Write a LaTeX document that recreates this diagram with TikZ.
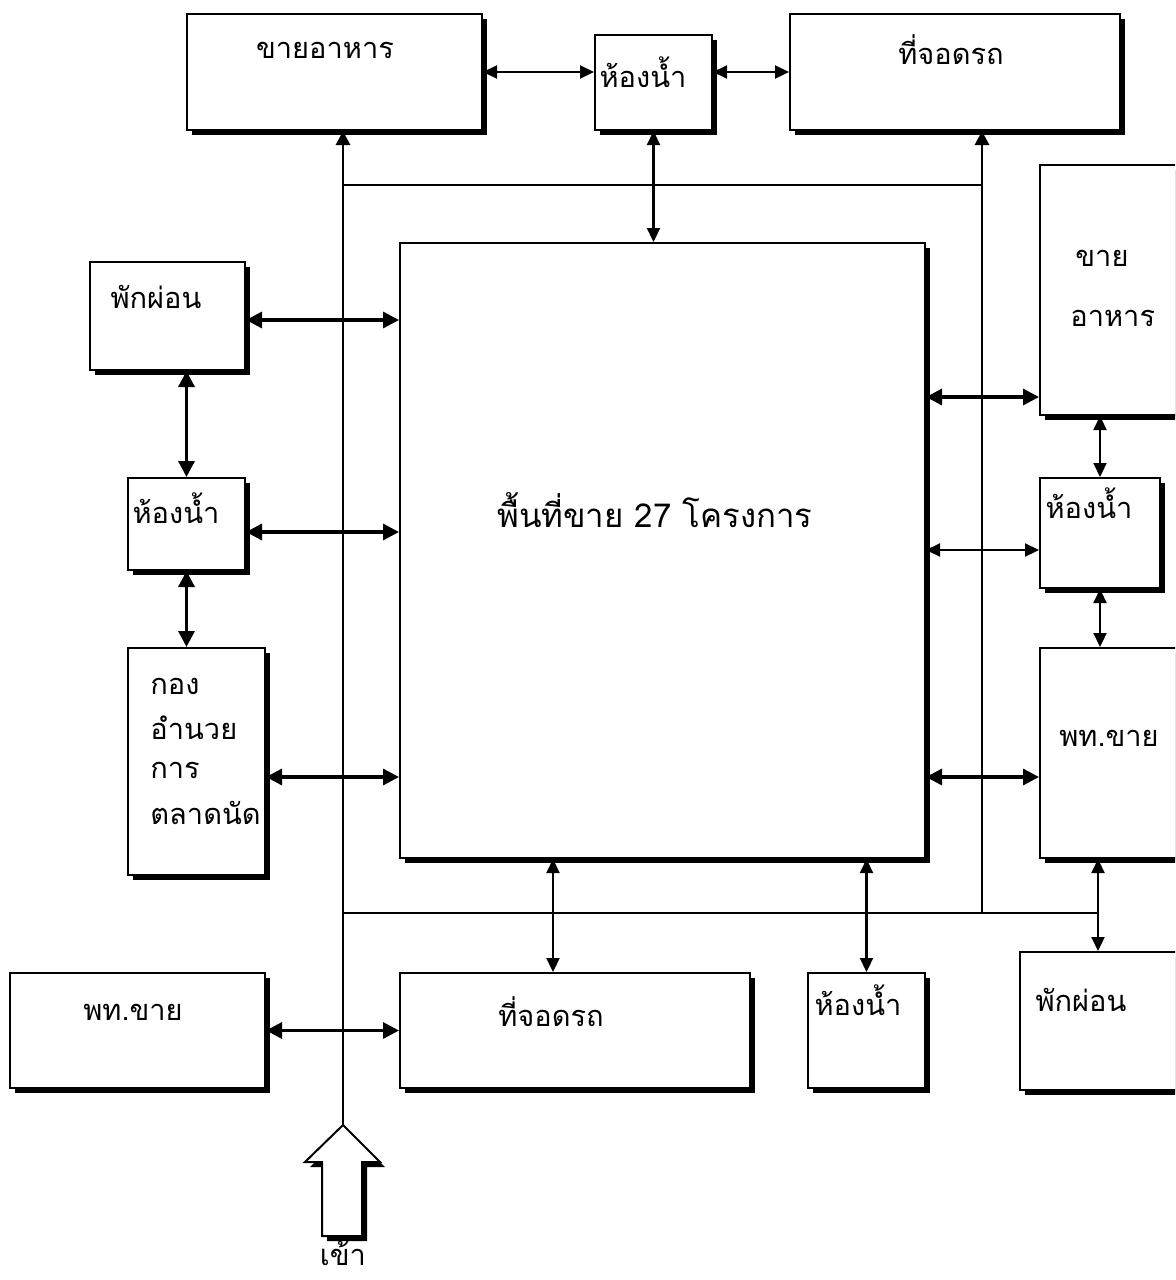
\documentclass[tikz,border=0pt]{standalone}
\usepackage{fontspec}
\newfontfamily\thaifont[Script=Thai]{Loma}
\usetikzlibrary{arrows.meta,shadows,fit,calc}

\tikzset{
  room/.style={draw, line width=1pt, fill=white, inner sep=0pt,
    drop shadow={shadow xshift=2.5pt, shadow yshift=-2.5pt, fill=black, opacity=1}},
  txt/.style={font=\thaifont\fontsize{14.5}{17}\selectfont, inner sep=0pt},
  bigtxt/.style={font=\thaifont\fontsize{16.5}{20}\selectfont, inner sep=0pt},
  wire/.style={line width=1.4pt},
  both/.style={line width=1.6pt, {Triangle[length=8pt,width=8pt]}-{Triangle[length=8pt,width=8pt]}},
  thinboth/.style={line width=1.1pt, {Triangle[length=7pt,width=6.5pt]}-{Triangle[length=7pt,width=6.5pt]}},
  into/.style={line width=1.4pt, -{Triangle[length=7pt,width=7pt]}},
}

\begin{document}
\begin{tikzpicture}[x=0.5pt,y=-0.5pt]
    \clip (0,0) rectangle (1175,1280);
    \fill[white] (0,0) rectangle (1175,1280);

    % top row
    \node[room, fit={(187,14) (482,130)}] (foodT) {};
    \node[room, fit={(595,35) (712,130)}] (toiletT) {};
    \node[room, fit={(790,14) (1120,130)}] (parkT) {};

    % sales area
    \node[room, fit={(400,243) (925,858)}] (main) {};

    % left column
    \node[room, fit={(90,262) (245,370)}] (restL) {};
    \node[room, fit={(128,478) (245,570)}] (toiletL) {};
    \node[room, fit={(128,648) (265,875)}] (fund) {};

    % right column (cut by the page edge)
    \node[room, fit={(1040,165) (1190,415)}] (foodR) {};
    \node[room, fit={(1040,478) (1160,588)}] (toiletR) {};
    \node[room, fit={(1040,648) (1190,858)}] (sellR) {};
    \node[room, fit={(1020,952) (1190,1090)}] (restR) {};

    % bottom row
    \node[room, fit={(10,973) (265,1088)}] (sellL) {};
    \node[room, fit={(400,973) (750,1088)}] (parkB) {};
    \node[room, fit={(808,973) (925,1088)}] (toiletB) {};

    % entrance
    \draw[room] (343,1125) -- (380,1162) -- (362,1162) -- (362,1236)
        -- (322,1236) -- (322,1162) -- (305,1162) -- cycle;
    \coordinate (door) at (343,1125);

    % labels
    \node[txt] (foodTt) at (325,50) {ขายอาหาร};
    \node[txt] (toiletTt) at (643,72) {ห้องน้ำ};
    \node[txt] (parkTt) at (951,50) {ที่จอดรถ};
    \node[bigtxt] (maint) at (655,510) {พื้นที่ขาย 27 โครงการ};
    \node[txt] (restLt) at (156,297) {พักผ่อน};
    \node[txt] (toiletLt) at (176,508) {ห้องน้ำ};
    \node[txt, anchor=west] (fund1) at (150,686) {กอง};
    \node[txt, anchor=west] (fund2) at (150,728) {อำนวย};
    \node[txt, anchor=west] (fund3) at (150,770) {การ};
    \node[txt, anchor=west] (fund4) at (150,813) {ตลาดนัด};
    \node[txt, anchor=west] (foodR1) at (1075,258) {ขาย};
    \node[txt, anchor=west] (foodR2) at (1070,318) {อาหาร};
    \node[txt] (toiletRt) at (1089,503) {ห้องน้ำ};
    \node[txt] (sellRt) at (1109,738) {พท.ขาย};
    \node[txt] (restRt) at (1081,1000) {พักผ่อน};
    \node[txt] (sellLt) at (133,1012) {พท.ขาย};
    \node[txt] (parkBt) at (551,1012) {ที่จอดรถ};
    \node[txt] (toiletBt) at (858,1000) {ห้องน้ำ};
    \node[txt, anchor=base, text depth=0pt] (entryt) at (343,1265) {เข้า};

    % walkways
    \coordinate (jTL) at (343,185);
    \coordinate (jTR) at (982,185);
    \coordinate (jBL) at (343,913);
    \coordinate (jBM) at (982,913);
    \coordinate (jBR) at (1098,913);
    \draw[into] (door) -- (door |- foodT.south);
    \draw[wire] (jTL) -- (jTR);
    \draw[into] (jBM) -- (jBM |- parkT.south);
    \draw[wire] (jBL) -- (jBR);

    % top links
    \draw[thinboth] (foodT.east) -- (toiletT.west |- foodT.east);
    \draw[thinboth] (toiletT.east |- 0,72) -- (parkT.west |- 0,72);
    \draw[thinboth] (toiletT.south) -- (toiletT.south |- main.north);

    % left links
    \draw[both] (restL.east |- 0,320) -- (main.west |- 0,320);
    \draw[both] (toiletL.east |- 0,532) -- (main.west |- 0,532);
    \draw[both] (fund.east |- 0,777) -- (main.west |- 0,777);
    \draw[both] (toiletL.north |- restL.south) -- (toiletL.north);
    \draw[both] (toiletL.south) -- (toiletL.south |- fund.north);

    % right links
    \draw[both] (main.east |- 0,397) -- (foodR.west |- 0,397);
    \draw[thinboth] (main.east |- 0,550) -- (toiletR.west |- 0,550);
    \draw[both] (main.east |- 0,777) -- (sellR.west |- 0,777);
    \draw[thinboth] (toiletR.north |- foodR.south) -- (toiletR.north);
    \draw[thinboth] (toiletR.south) -- (toiletR.south |- sellR.north);
    \draw[thinboth] (jBR |- sellR.south) -- (jBR |- restR.north);

    % bottom links
    \draw[thinboth] (553,0 |- main.south) -- (553,0 |- parkB.north);
    \draw[thinboth] (toiletB.north |- main.south) -- (toiletB.north);
    \draw[both] (sellL.east) -- (parkB.west);
\end{tikzpicture}
\end{document}
